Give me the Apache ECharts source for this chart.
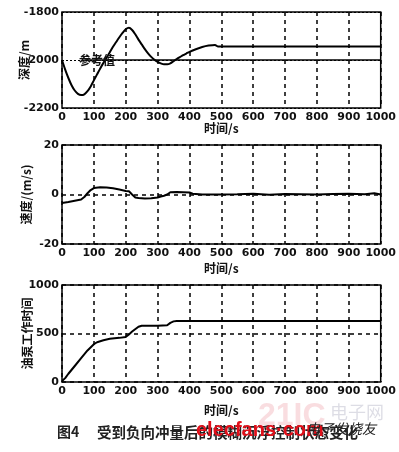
<!DOCTYPE html>
<html><head><meta charset="utf-8">
<script src="https://cdn.jsdelivr.net/npm/echarts@6/dist/echarts.min.js"></script>
<style>html,body{margin:0;padding:0;background:#fff}#c{width:399px;height:452px}</style>
</head><body><div id="c"></div>
<script>
// ---- data ----
const X_TICKS = [0,100,200,300,400,500,600,700,800,900,1000];
const DEPTH_T = [0,10,20,30,40,50,60,70,80,90,100,110,120,130,140,150,160,170,180,190,200,210,220,230,240,250,260,270,280,290,300,310,320,330,340,350,360,370,380,390,400,420,440,460,480,490,1000];
const DEPTH_V = [-2000,-2040,-2075,-2105,-2127,-2141,-2146,-2143,-2130,-2110,-2085,-2060,-2035,-2012,-1990,-1968,-1945,-1925,-1905,-1887,-1872,-1866,-1875,-1893,-1915,-1935,-1955,-1972,-1987,-1999,-2008,-2014,-2018,-2018,-2014,-2005,-1996,-1988,-1980,-1973,-1966,-1955,-1946,-1940,-1937,-1944,-1944];
const DEPTH_REF = -2000;
const DEPTH_REF_LABEL = '参考值';
const DEPTH_TICK_LABELS = {'-1800':'-1800','-2000':'2000','-2200':'-2200'};

const VEL_T = [0,20,40,60,70,80,90,100,120,140,160,180,200,210,220,230,240,260,280,300,310,320,330,340,360,380,400,410,420,440,500,550,600,650,700,750,800,850,900,950,980,1000];
const VEL_V = [-3.4,-3,-2.5,-2,-1,0.5,1.8,2.6,2.9,2.8,2.5,2,1.4,1.3,0,-1.2,-1.4,-1.6,-1.5,-1.2,-0.8,-0.5,0,0.9,1.0,0.9,0.8,0.3,0.2,0,0,0.1,0.3,-0.1,0.2,0.1,0,0.2,0.3,0.1,0.5,0];

const PUMP_T = [0,10,20,40,60,80,100,110,130,150,180,200,210,220,240,250,300,330,340,350,360,1000];
const PUMP_V = [10,40,85,165,245,325,390,410,430,445,455,465,490,520,570,580,580,585,610,625,630,630];

const X_NAME = '时间/s';
const Y_NAMES = ['深度/m','速度/(m/s)','油泵工作时间'];
const FIG_NO = '图4';
const CAPTION = '受到负向冲量后的模糊沉浮控制状态变化';

// ---- chart ----
const zip = (a,b) => a.map((t,i)=>[t,b[i]]);
const FONT = 'DejaVu Sans';
const CJK = 'Noto Sans CJK SC';
const grids = [
  {left:62, top:12, width:319, height:96},
  {left:62, top:145, width:319, height:99},
  {left:62, top:285, width:319, height:97}
];
const xNameGaps = [14, 18, 22];
const yNameGaps = [32, 30, 29];
const yCfg = [
  {min:-2200,max:-1800,interval:200, split:false, fmt:v=>DEPTH_TICK_LABELS[String(v)]||String(v)},
  {min:-20,max:20,interval:20, split:true, fmt:v=>String(v)},
  {min:0,max:1000,interval:500, split:true, fmt:v=>String(v)}
];
const dashed = {show:true, lineStyle:{color:'#000', type:[4,4], width:1.5}};
const chart = echarts.init(document.getElementById('c'), null, {renderer:'canvas'});
chart.setOption({
  animation:false,
  backgroundColor:'#fff',
  grid: grids.map(g=>Object.assign({show:true, borderColor:'#000', borderWidth:1.5, backgroundColor:'transparent'}, g)),
  xAxis: grids.map((g,i)=>({
    type:'value', gridIndex:i, min:X_TICKS[0], max:X_TICKS[X_TICKS.length-1], interval:100,
    name:X_NAME, nameLocation:'middle', nameGap:xNameGaps[i], nameMoveOverlap:false,
    nameTextStyle:{fontFamily:CJK, fontWeight:'bold', fontSize:12, color:'#111'},
    axisLine:{show:false}, axisTick:{show:false},
    axisLabel:{margin:4, fontFamily:FONT, fontWeight:'bold', fontSize:11, color:'#111', formatter:v=>String(v)},
    splitLine: dashed
  })),
  yAxis: yCfg.map((c,i)=>({
    type:'value', gridIndex:i, min:c.min, max:c.max, interval:c.interval,
    name:Y_NAMES[i], nameLocation:'middle', nameGap:yNameGaps[i], nameRotate:90, nameMoveOverlap:false,
    nameTextStyle:{fontFamily:CJK, fontWeight:'bold', fontSize:12, color:'#111'},
    axisLine:{show:false}, axisTick:{show:false},
    axisLabel:{margin:3, fontFamily:FONT, fontWeight:'bold', fontSize:11, color:'#111', formatter:c.fmt},
    splitLine: c.split ? dashed : {show:i===0, lineStyle:{color:'#000', type:[2,2], width:1.2}}
  })),
  series: [
    {type:'line', xAxisIndex:0, yAxisIndex:0, data:zip(DEPTH_T,DEPTH_V), smooth:0.3, symbol:'none',
     lineStyle:{color:'#000', width:2},
     markLine:{silent:true, symbol:'none',
       lineStyle:{color:'#000', type:'solid', width:1.5},
       label:{show:false},
       data:[[{coord:[70,DEPTH_REF]},{coord:[1000,DEPTH_REF]}]]},
     markPoint:{symbol:'rect', symbolSize:[1,1], itemStyle:{color:'transparent'},
       label:{show:true, formatter:DEPTH_REF_LABEL, fontFamily:CJK, fontWeight:'bold', fontSize:12, color:'#111', position:'inside'},
       data:[{coord:[110,DEPTH_REF]}]}
    },
    {type:'line', xAxisIndex:1, yAxisIndex:1, data:zip(VEL_T,VEL_V), symbol:'none', lineStyle:{color:'#000', width:2}},
    {type:'line', xAxisIndex:2, yAxisIndex:2, data:zip(PUMP_T,PUMP_V), symbol:'none', lineStyle:{color:'#000', width:2}}
  ],
  graphic: [
    {type:'text', left:258, top:400, style:{text:'21IC', font:'bold 32px "Liberation Sans"', fill:'rgba(230,120,130,0.25)'}},
    {type:'text', left:330, top:403, style:{text:'电子网', font:'18px "Noto Sans CJK SC"', fill:'rgba(120,120,150,0.25)'}},
    {type:'text', left:57, top:425, style:{text:FIG_NO, font:'bold 14px "Noto Sans CJK SC"', fill:'#222'}},
    {type:'text', left:97, top:425, style:{text:CAPTION, font:'bold 14.5px "Noto Sans CJK SC"', fill:'#222'}},
    {type:'text', left:196, top:420, style:{text:'elecfans·com', font:'bold 20px "Liberation Sans"', fill:'#e0101a'}},
    {type:'text', left:306, top:422, style:{text:'电子发烧友', font:'italic 14px "Noto Sans CJK SC"', fill:'#222'}}
  ]
});
</script></body></html>
